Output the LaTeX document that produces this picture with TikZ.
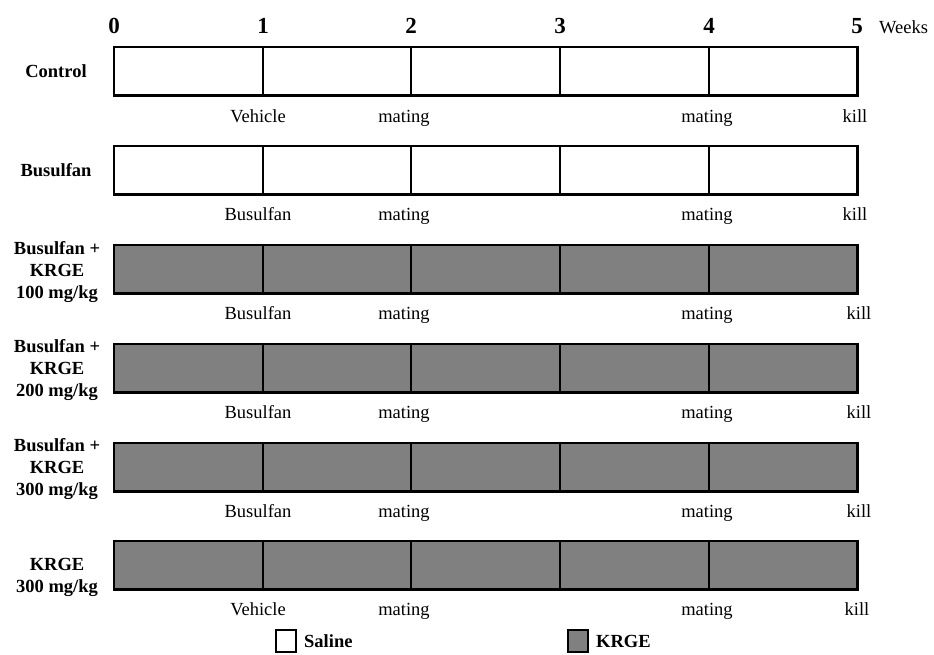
\documentclass[tikz,border=0pt]{standalone}
\usepackage{fontspec}
\setmainfont{Liberation Serif}
\definecolor{krge}{HTML}{808080}
\begin{document}
\begin{tikzpicture}[x=1pt,y=-1pt,
  barout/.style={line width=2.8pt},
  divline/.style={line width=1.2pt},
  wk/.style={font=\fontsize{23}{26}\selectfont\bfseries, inner sep=0pt, anchor=base},
  grp/.style={font=\fontsize{18.5}{22}\selectfont\bfseries, align=center, inner sep=0pt},
  ev/.style={font=\fontsize{18.5}{20}\selectfont, inner sep=0pt, anchor=base},
  leg/.style={font=\fontsize{18.5}{20}\selectfont\bfseries, inner sep=0pt, anchor=west}]
\useasboundingbox (0,0) rectangle (934,654);
% week numbers
\foreach \n/\x in {0/114,1/263,2/411,3/560,4/709,5/857}
  \node[wk] (w\n) at (\x,33) {\n};
\node[ev, anchor=base west] (weeks) at (879,33) {Weeks};
% bars
\foreach \r/\yt/\fill in {1/47/white,2/146/white,3/245/krge,4/344/krge,5/443/krge,6/541/krge}{
  \pgfmathsetmacro{\yb}{\yt+48}
  \node[draw=none, fill=\fill, minimum width=743pt, minimum height=48pt, inner sep=0pt, anchor=north west] (bar\r) at (114,\yt) {};
  \foreach \x in {263,411,560,709}
    \draw[divline] (\x,\yt) -- (\x,\yb);
  \draw[barout] (bar\r.north west) rectangle (bar\r.south east);
}
% group labels
\node[grp] (g1) at (56,71) {Control};
\node[grp] (g2) at (56,170) {Busulfan};
\node[grp] (g3) at (57,272) {Busulfan +\\KRGE\\100 mg/kg};
\node[grp] (g4) at (57,370) {Busulfan +\\KRGE\\200 mg/kg};
\node[grp] (g5) at (57,469) {Busulfan +\\KRGE\\300 mg/kg};
\node[grp] (g6) at (57,577) {KRGE\\300 mg/kg};
% event labels
\foreach \r/\y/\first/\kx in {1/122/Vehicle/855,2/220/Busulfan/855,3/319/Busulfan/859,4/418/Busulfan/859,5/517/Busulfan/859,6/615/Vehicle/857}{
  \node[ev] (a\r) at (258,\y) {\first};
  \node[ev] (b\r) at (404,\y) {mating};
  \node[ev] (c\r) at (707,\y) {mating};
  \node[ev] (d\r) at (\kx,\y) {kill};
}
% legend
\node[draw, line width=2.2pt, fill=white, minimum width=20pt, minimum height=22pt, inner sep=0pt] (ls) at (286,641) {};
\node[leg] (lst) at (304,641) {Saline};
\node[draw, line width=2.2pt, fill=krge, minimum width=20pt, minimum height=22pt, inner sep=0pt] (lk) at (578,641) {};
\node[leg] (lkt) at (596,641) {KRGE};
\end{tikzpicture}
\end{document}
